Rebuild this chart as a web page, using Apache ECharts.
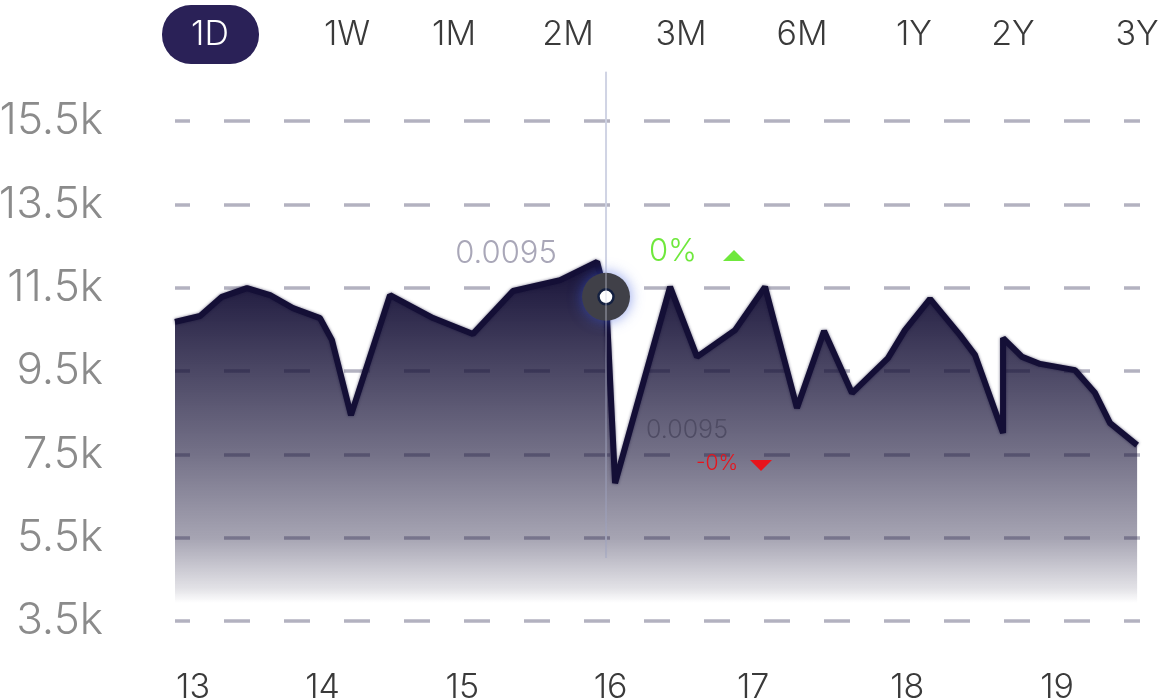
<!DOCTYPE html>
<html><head><meta charset="utf-8">
<script src="https://cdn.jsdelivr.net/npm/echarts@6/dist/echarts.min.js"></script>
<style>html,body{margin:0;padding:0;background:#fff;overflow:hidden}#c{width:1165px;height:699px}</style>
</head><body><div id="c"></div>
<script>
// x positions (day units) and values
const xDays = [12.875,13.049,13.201,13.375,13.535,13.694,13.882,13.965,14.097,14.368,14.667,14.944,15.222,15.549,15.806,15.868,15.931,16.313,16.5,16.764,16.972,17.194,17.382,17.576,17.826,17.944,18.118,18.326,18.431,18.625,18.625,18.757,18.882,19.125,19.264,19.368,19.556];
const values = [10680,10820,11280,11490,11320,11010,10770,10240,8440,11320,10770,10390,11420,11680,12120,11280,6810,11520,9840,10480,11520,8610,10460,8970,9810,10480,11230,10360,9880,8010,10290,9840,9670,9520,8970,8250,7720];
const xTickValues = [13,13.9,14.87,15.9,16.89,17.96,19];
const xTickLabels = ['13','14','15','16','17','18','19'];
const yMin = 3500, yMax = 15500, yStep = 2000;
const ranges = ['1D','1W','1M','2M','3M','6M','1Y','2Y','3Y'];
const rangeX = [210,347,454,568,681,802,914,1013,1137];
const hoverIndex = 15;
const cursorTop = 16680, cursorBottom = 5010;

const FONT = 'Inter';
const chart = echarts.init(document.getElementById('c'));
const data = xDays.map((x,i)=>[x, values[i]]);
const hx = xDays[hoverIndex], hy = values[hoverIndex];

const graphic = ranges.map((r,i)=>{
  if(i===0){
    return {type:'group', z:100, children:[
      {type:'rect', shape:{x:162,y:5,width:97,height:59,r:29}, style:{fill:'#2a2157'}},
      {type:'text', style:{text:r, x:rangeX[i], y:35, align:'center', verticalAlign:'middle', fill:'#fff', font:'300 34px '+FONT}}
    ]};
  }
  return {type:'text', z:100, style:{text:r, x:rangeX[i], y:35, align:'center', verticalAlign:'middle', fill:'#3a3a3a', font:'300 34px '+FONT}};
});
graphic.push(
  {type:'text', z:100, style:{text:'0.0095', x:506, y:254, align:'center', verticalAlign:'middle', fill:'#a9a7b8', font:'300 31px '+FONT}},
  {type:'text', z:100, style:{text:'0%', x:673, y:252, align:'center', verticalAlign:'middle', fill:'#6fe83c', font:'300 31px '+FONT}},
  {type:'polygon', z:100, shape:{points:[[723,261],[745,261],[734,250]]}, style:{fill:'#6fe83c'}},
  {type:'text', z:100, style:{text:'0.0095', x:687, y:430, align:'center', verticalAlign:'middle', fill:'#4f4c64', font:'300 25px '+FONT}},
  {type:'text', z:100, style:{text:'-0%', x:717, y:464, align:'center', verticalAlign:'middle', fill:'#e8141c', font:'300 21px '+FONT}},
  {type:'polygon', z:100, shape:{points:[[750,460],[772,460],[761,471]]}, style:{fill:'#e8141c'}}
);

chart.setOption({
  animation:false,
  grid:{left:175, right:25, top:121, bottom:78, outerBoundsMode:'none', containLabel:false},
  xAxis:{type:'value', min:12.875, max:19.576,
    axisLine:{show:false}, axisTick:{show:false}, splitLine:{show:false},
    axisLabel:{customValues:xTickValues, formatter:(v)=>xTickLabels[xTickValues.indexOf(v)] ?? String(Math.round(v)), color:'#3a3a3a', fontSize:34, fontFamily:FONT, fontWeight:300, margin:50}
  },
  yAxis:{type:'value', min:yMin, max:yMax, interval:yStep,
    axisLine:{show:false}, axisTick:{show:false},
    splitLine:{lineStyle:{type:[26,34], dashOffset:11, color:'rgba(150,148,168,0.72)', width:3.5}},
    axisLabel:{formatter:(v)=>(v/1000).toFixed(1)+'k', color:'#8b8b8b', fontSize:44, fontFamily:FONT, fontWeight:300, margin:72}
  },
  graphic: graphic,
  series:[{
    type:'line', data:data, symbol:'none', clip:false, z:3,
    lineStyle:{color:'#140f36', width:6, shadowBlur:3, shadowColor:'rgba(20,15,54,0.6)'},
    areaStyle:{opacity:1, color:new echarts.graphic.LinearGradient(0,0,0,1,[
      {offset:0,color:'rgba(22,17,55,1)'},
      {offset:0.53,color:'rgba(22,17,55,0.6)'},
      {offset:0.77,color:'rgba(22,17,55,0.38)'},
      {offset:0.91,color:'rgba(22,17,55,0.12)'},
      {offset:0.95,color:'rgba(22,17,55,0)'}
    ])},
    markPoint:{silent:true, label:{show:false}, data:[
      {coord:[hx,hy], symbol:'circle', symbolSize:48, itemStyle:{color:'#404048', shadowBlur:14, shadowColor:'rgba(60,90,220,0.6)'}},
      {coord:[hx,hy], symbol:'circle', symbolSize:15, itemStyle:{color:'#fff', borderColor:'#142040', borderWidth:2.5}}
    ]}
  }]
});
// hover cursor line through the hovered data point
const pTop = chart.convertToPixel({gridIndex:0}, [hx, cursorTop]);
const pBot = chart.convertToPixel({gridIndex:0}, [hx, cursorBottom]);
graphic.push({type:'line', z:2, shape:{x1:pTop[0], y1:pTop[1], x2:pBot[0], y2:pBot[1]}, style:{stroke:'rgba(205,210,226,0.9)', lineWidth:2}});
graphic.push({type:'line', z:50, shape:{x1:pTop[0], y1:pTop[1], x2:pBot[0], y2:pBot[1]}, style:{stroke:'rgba(205,210,226,0.35)', lineWidth:2}});
chart.setOption({graphic: graphic});
</script></body></html>
